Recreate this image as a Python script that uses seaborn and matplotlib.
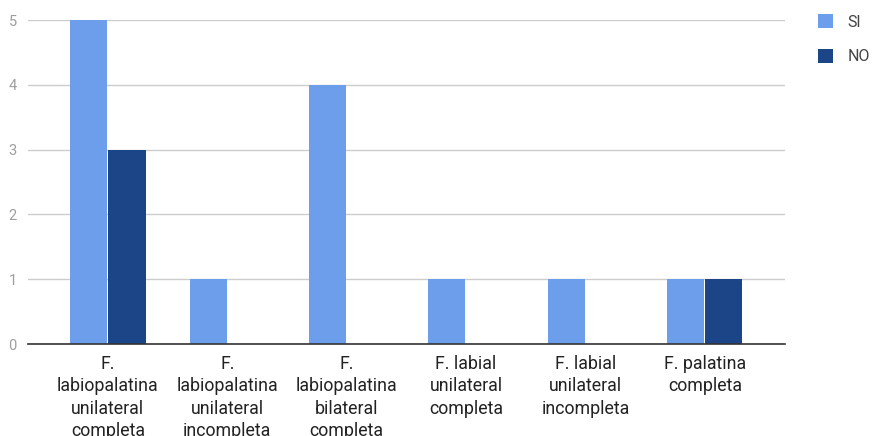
import matplotlib
matplotlib.use("Agg")
import matplotlib.pyplot as plt
import seaborn as sns
import pandas as pd
from matplotlib.patches import Patch

categories = [
    "F.\nlabiopalatina\nunilateral\ncompleta",
    "F.\nlabiopalatina\nunilateral\nincompleta",
    "F.\nlabiopalatina\nbilateral\ncompleta",
    "F. labial\nunilateral\ncompleta",
    "F. labial\nunilateral\nincompleta",
    "F. palatina\ncompleta",
]
si_values = [5, 1, 4, 1, 1, 1]
no_values = [3, 0, 0, 0, 0, 1]
series = ["SI", "NO"]
colors = {"SI": "#6d9eeb", "NO": "#1c4587"}
y_ticks = [0, 1, 2, 3, 4, 5]

df = pd.DataFrame({
    "categoria": categories * 2,
    "valor": si_values + no_values,
    "serie": ["SI"] * len(categories) + ["NO"] * len(categories),
})

sns.set_theme(style="white")
plt.rcParams["font.family"] = ["Roboto", "DejaVu Sans"]

fig = plt.figure(figsize=(8.72, 4.36), dpi=100)
ax = fig.add_axes([0.032, 0.211, 0.868, 0.743])

sns.barplot(data=df, x="categoria", y="valor", hue="serie", hue_order=series,
            palette=colors, width=0.64, gap=0.03, ax=ax, legend=False,
            saturation=1, edgecolor="none")

ax.set_xlim(-0.67, len(categories) - 1 + 0.67)
ax.set_ylim(0, 5)
ax.set_yticks(y_ticks)
ax.set_yticklabels([str(t) for t in y_ticks], color="#9e9e9e", fontsize=10.5)
ax.yaxis.grid(True, color="#cccccc", linewidth=1)
ax.set_axisbelow(True)
ax.tick_params(axis="y", length=0, pad=8)
ax.tick_params(axis="x", length=0, pad=7.8)
for lbl in ax.get_xticklabels():
    lbl.set_fontsize(12.8)
    lbl.set_color("#222222")
    lbl.set_linespacing(1.32)
    lbl.set_horizontalalignment("center")
ax.set_xlabel("")
ax.set_ylabel("")
for s in ["top", "right", "left"]:
    ax.spines[s].set_visible(False)
ax.spines["bottom"].set_color("#333333")
ax.spines["bottom"].set_linewidth(1.2)

handles = [Patch(facecolor=colors[s], edgecolor="none", label=s) for s in series]
fig.legend(handles=handles, loc="upper left", bbox_to_anchor=(0.9215, 1.0),
           frameon=False, fontsize=11.5, labelcolor="#444444", handlelength=0.95,
           handleheight=0.95, handletextpad=0.9, labelspacing=1.2)

fig.savefig("out.png", dpi=100)
